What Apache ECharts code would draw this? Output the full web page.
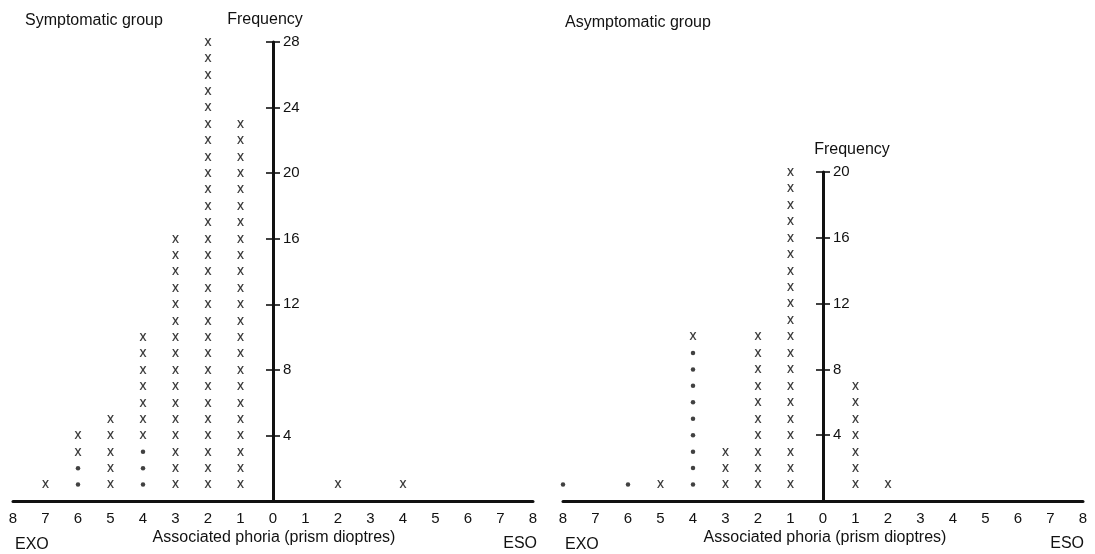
<!DOCTYPE html>
<html>
<head>
<meta charset="utf-8">
<title>Associated phoria distribution</title>
<script src="https://cdn.jsdelivr.net/npm/echarts@6/dist/echarts.min.js"></script>
<style>
  html, body { margin: 0; padding: 0; background: #fff; }
  #chart { width: 1095px; height: 554px; }
</style>
</head>
<body>
<div id="chart"></div>
<script>
// Associated phoria in prism dioptres: negative = EXO, positive = ESO.
// Each column is a stack of marks, one per subject: dots first, crosses above.
const sympPhoria  = [-7, -6, -5, -4, -3, -2, -1, 2, 4];
const sympDots    = [ 0,  2,  0,  3,  0,  0,  0, 0, 0];
const sympCrosses = [ 1,  2,  5,  7, 16, 28, 23, 1, 1];

const asymPhoria  = [-8, -6, -5, -4, -3, -2, -1, 1, 2];
const asymDots    = [ 1,  1,  0,  9,  0,  0,  0, 0, 0];
const asymCrosses = [ 0,  0,  1,  1,  3, 10, 20, 7, 1];

const phoriaRange = [-8, 8];
const sympFreqMax = 28;
const asymFreqMax = 20;
const freqStep = 4;

// Expand column counts into stacked mark positions.
function stackMarks(phoria, dots, crosses) {
  const dotPts = [], crossPts = [];
  phoria.forEach((p, i) => {
    for (let k = 1; k <= dots[i]; k++) dotPts.push([p, k]);
    for (let k = 1; k <= crosses[i]; k++) crossPts.push([p, dots[i] + k]);
  });
  return { dotPts, crossPts };
}

const symp = stackMarks(sympPhoria, sympDots, sympCrosses);
const asym = stackMarks(asymPhoria, asymDots, asymCrosses);

const ink = '#111';
const fontFamily = 'Liberation Sans, Arial, Helvetica, sans-serif';

// Panel rectangles; the frequency axis stands at phoria 0, the middle of each.
const panels = [
  { left: 13, top: 42, width: 520, height: 459, max: sympFreqMax },
  { left: 563, top: 172, width: 520, height: 329, max: asymFreqMax }
];

// Each panel uses two identical grids: one carries the data, the phoria axis,
// the frequency axis line, labels and right-hand ticks; the other only adds
// the left-hand half of each tick so the ticks cross the axis.
const grids = [], xAxes = [], yAxes = [];
panels.forEach((p, i) => {
  const rect = { left: p.left, top: p.top, width: p.width, height: p.height };
  grids.push(Object.assign({}, rect), Object.assign({}, rect));
  const centre = -p.width / 2;

  xAxes.push({
    type: 'value', gridIndex: 2 * i,
    min: phoriaRange[0], max: phoriaRange[1], interval: 1,
    axisLine: { onZero: false, lineStyle: { color: ink, width: 3 } },
    axisTick: { show: false },
    splitLine: { show: false },
    axisLabel: {
      color: ink, fontSize: 15, fontFamily, margin: 10,
      formatter: v => String(Math.abs(v))
    }
  }, {
    type: 'value', gridIndex: 2 * i + 1, show: false,
    min: phoriaRange[0], max: phoriaRange[1], interval: 1
  });

  yAxes.push({
    type: 'value', gridIndex: 2 * i, min: 0, max: p.max, interval: freqStep,
    position: 'left', offset: centre,
    axisLine: { show: true, onZero: false, lineStyle: { color: ink, width: 3 } },
    axisTick: { show: true, inside: true, length: 7, lineStyle: { color: ink, width: 1.6 } },
    splitLine: { show: false },
    axisLabel: {
      inside: true, color: ink, fontSize: 15, fontFamily, margin: 10,
      formatter: v => (v === 0 ? '' : String(v))
    }
  }, {
    type: 'value', gridIndex: 2 * i + 1, min: 0, max: p.max, interval: freqStep,
    position: 'left', offset: centre,
    axisLine: { show: false, onZero: false },
    axisTick: { show: true, inside: false, length: 7, lineStyle: { color: ink, width: 1.6 } },
    splitLine: { show: false },
    axisLabel: { show: false }
  });
});

function crossSeries(axisIndex, data) {
  return {
    type: 'scatter', xAxisIndex: axisIndex, yAxisIndex: axisIndex, data,
    symbol: 'circle', symbolSize: 1,
    itemStyle: { color: 'rgba(0,0,0,0)' },
    label: {
      show: true, position: 'inside', formatter: 'x',
      color: '#000', fontSize: 14, fontFamily,
      textBorderColor: '#000', textBorderWidth: 0.12
    },
    emphasis: { disabled: true },
    silent: true, z: 3
  };
}

function dotSeries(axisIndex, data) {
  return {
    type: 'scatter', xAxisIndex: axisIndex, yAxisIndex: axisIndex, data,
    symbol: 'circle', symbolSize: 4.5,
    itemStyle: { color: ink },
    emphasis: { disabled: true },
    silent: true, z: 3
  };
}

function label(text, x, y, align) {
  return {
    type: 'text', x, y, silent: true,
    style: {
      text, fill: ink, font: '16px ' + fontFamily,
      align, verticalAlign: 'middle',
      textAlign: align, textVerticalAlign: 'middle'
    }
  };
}

const chart = echarts.init(document.getElementById('chart'), null, { renderer: 'canvas' });

chart.setOption({
  animation: false,
  backgroundColor: '#fff',
  grid: grids,
  xAxis: xAxes,
  yAxis: yAxes,
  series: [
    dotSeries(0, symp.dotPts),
    crossSeries(0, symp.crossPts),
    dotSeries(2, asym.dotPts),
    crossSeries(2, asym.crossPts)
  ],
  graphic: [
    label('Symptomatic group', 25, 21, 'left'),
    label('Frequency', 265, 20, 'center'),
    label('EXO', 15, 545, 'left'),
    label('Associated phoria (prism dioptres)', 274, 538, 'center'),
    label('ESO', 537, 544, 'right'),

    label('Asymptomatic group', 565, 23, 'left'),
    label('Frequency', 852, 150, 'center'),
    label('EXO', 565, 545, 'left'),
    label('Associated phoria (prism dioptres)', 825, 538, 'center'),
    label('ESO', 1084, 544, 'right')
  ]
});
</script>
</body>
</html>
